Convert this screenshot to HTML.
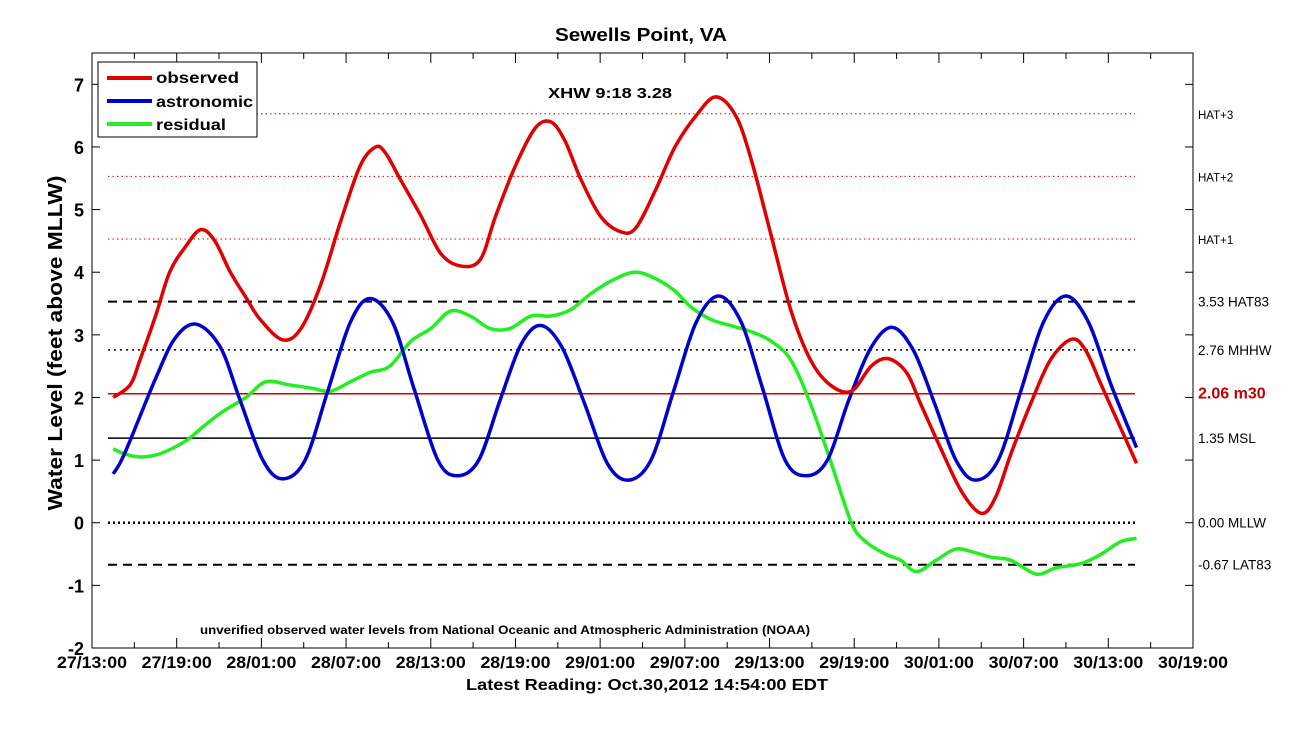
<!DOCTYPE html>
<html><head><meta charset="utf-8"><style>
body{margin:0;background:#fff;}
svg text{font-family:"Liberation Sans",Arial,sans-serif;}
</style></head><body>
<svg id="chart" width="1305" height="728" xmlns="http://www.w3.org/2000/svg">
<text x="555" y="41" font-size="18" font-weight="bold" textLength="172" lengthAdjust="spacingAndGlyphs">Sewells Point, VA</text>
<text transform="translate(62,343) rotate(-90)" text-anchor="middle" font-size="20" font-weight="bold" textLength="335" lengthAdjust="spacingAndGlyphs">Water Level (feet above MLLW)</text>
<text x="466" y="690" font-size="16" font-weight="bold" textLength="362" lengthAdjust="spacingAndGlyphs">Latest Reading: Oct.30,2012 14:54:00 EDT</text>
<text x="200" y="634" font-size="12" font-weight="bold" textLength="610" lengthAdjust="spacingAndGlyphs">unverified observed water levels from National Oceanic and Atmospheric Administration (NOAA)</text>
<text x="548" y="98" font-size="15" font-weight="bold" textLength="124" lengthAdjust="spacingAndGlyphs">XHW 9:18 3.28</text>
<g id="grid"></g>
<g id="axes"></g>
<g id="series"></g>
<g>
<rect x="98" y="62" width="159" height="75" fill="#fff" stroke="#000" stroke-width="1"/>
<line x1="107" y1="78" x2="152" y2="78" stroke="#e00000" stroke-width="4"/>
<text x="156" y="83" font-size="16" font-weight="bold" textLength="83" lengthAdjust="spacingAndGlyphs">observed</text>
<line x1="107" y1="101" x2="152" y2="101" stroke="#0000cc" stroke-width="4"/>
<text x="156" y="107" font-size="16" font-weight="bold" textLength="97" lengthAdjust="spacingAndGlyphs">astronomic</text>
<line x1="107" y1="124" x2="152" y2="124" stroke="#22ee22" stroke-width="4"/>
<text x="156" y="130" font-size="16" font-weight="bold" textLength="70" lengthAdjust="spacingAndGlyphs">residual</text>
</g>
</svg>
<script>
const xTickLabels=["27/13:00","27/19:00","28/01:00","28/07:00","28/13:00","28/19:00","29/01:00","29/07:00","29/13:00","29/19:00","30/01:00","30/07:00","30/13:00","30/19:00"];
const yTicks=[-2,-1,0,1,2,3,4,5,6,7];
const obsT=[1.5,2.7,3.4,4.5,5.5,6.6,7.7,8.7,9.8,10.9,11.9,13.5,14.8,16.2,17.6,19.0,20.1,20.8,21.8,23.3,24.7,26.1,27.5,28.6,30.0,31.4,32.5,33.5,34.6,36.0,37.4,38.5,39.9,41.3,42.8,44.2,45.6,46.7,48.1,49.5,50.9,52.3,53.8,55.2,56.4,57.7,58.7,60.1,61.6,63.0,64.0,65.1,66.5,67.9,69.4,70.4,71.5,72.9,74.0];
const obsV=[2.0,2.2,2.6,3.3,4.0,4.4,4.68,4.5,4.0,3.6,3.25,2.92,3.1,3.8,4.8,5.7,6.0,5.9,5.5,4.9,4.3,4.1,4.2,4.9,5.7,6.3,6.4,6.1,5.5,4.9,4.65,4.7,5.3,6.0,6.5,6.8,6.5,5.8,4.6,3.4,2.6,2.2,2.1,2.5,2.62,2.4,1.9,1.2,0.5,0.15,0.4,1.1,1.9,2.6,2.93,2.75,2.2,1.5,0.95];
const astT=[1.5,2.3,4.5,5.9,7.4,9.1,10.5,12.1,13.5,15.1,16.7,18.3,19.7,21.3,22.8,24.5,25.9,27.4,28.9,30.4,31.8,33.3,34.9,36.5,38.0,39.6,41.2,42.8,44.4,46.0,47.5,49.1,50.6,52.1,53.6,55.2,56.7,58.2,59.7,61.2,62.6,64.2,65.8,67.4,69.0,70.6,72.2,74.0];
const astV=[0.78,1.1,2.3,2.95,3.17,2.8,1.95,1.0,0.7,1.0,2.1,3.2,3.58,3.2,2.15,1.0,0.75,1.0,1.95,2.85,3.15,2.8,1.9,0.95,0.68,1.0,2.1,3.2,3.62,3.2,2.15,1.0,0.75,1.0,1.95,2.8,3.12,2.75,1.9,1.0,0.68,1.0,2.1,3.2,3.62,3.2,2.2,1.2];
const resT=[1.5,2.3,3.4,4.8,6.6,7.7,9.1,10.9,12.3,14.0,15.5,16.9,18.3,19.7,21.1,22.6,24.0,25.4,26.8,28.2,29.6,31.1,32.5,33.9,35.3,36.7,38.4,39.9,41.3,42.4,43.8,45.2,46.7,48.1,49.5,50.9,52.3,53.8,54.8,56.2,57.3,58.4,59.8,61.2,62.6,63.7,65.1,66.9,68.3,70.1,71.5,72.9,74.0];
const resV=[1.18,1.1,1.05,1.1,1.3,1.5,1.75,2.0,2.25,2.2,2.15,2.1,2.25,2.4,2.5,2.9,3.1,3.38,3.3,3.1,3.1,3.3,3.3,3.4,3.65,3.85,4.0,3.9,3.7,3.45,3.25,3.15,3.05,2.9,2.6,1.9,1.0,0.0,-0.3,-0.5,-0.6,-0.78,-0.6,-0.42,-0.48,-0.55,-0.6,-0.82,-0.72,-0.65,-0.5,-0.3,-0.25];
const refVals=[6.53,5.53,4.53,3.53,2.76,2.06,1.35,0.00,-0.67];
const refLabels=["HAT+3","HAT+2","HAT+1","3.53 HAT83","2.76 MHHW","2.06 m30","1.35 MSL","0.00 MLLW","-0.67 LAT83"];

const L=92,R=1193,T=53,B=648,H0=0,H1=78,Y0=-2,Y1=7.5;
const sx=h=>L+(h-H0)/(H1-H0)*(R-L);
const sy=v=>B-(v-Y0)/(Y1-Y0)*(B-T);
const NS="http://www.w3.org/2000/svg";
function mk(tag,attrs,parent){const e=document.createElementNS(NS,tag);for(const k in attrs)e.setAttribute(k,attrs[k]);parent.appendChild(e);return e;}
const grid=document.getElementById('grid'),axes=document.getElementById('axes'),ser=document.getElementById('series');

const refStyles=[
 {c:"#e00000",w:1,d:"1.5 3"},{c:"#e00000",w:1,d:"1.5 3"},{c:"#e00000",w:1,d:"1.5 3"},
 {c:"#000",w:2,d:"9 6"},{c:"#000",w:1.5,d:"2 4"},{c:"#d00000",w:1.5,d:""},{c:"#000",w:1.5,d:""},{c:"#000",w:2.5,d:"2 3"},{c:"#000",w:2,d:"9 6"}];
refVals.forEach((v,i)=>{
 const s=refStyles[i];
 const ln=mk('line',{x1:108,x2:1135,y1:sy(v),y2:sy(v),stroke:s.c,'stroke-width':s.w,'stroke-dasharray':s.d},grid);
 
 
 const small=i<3, red=i==5;
 const t=mk('text',{x:1198,y:sy(v)+5,'font-size':red?16:(small?11.5:13.5),'font-weight':red?'bold':'normal',fill:red?'#c00000':'#000'},grid);
 t.textContent=refLabels[i];
 
 
});

const frame=mk('rect',{x:L,y:T,width:R-L,height:B-T,fill:'none',stroke:'#000','stroke-width':1},axes);


yTicks.forEach(v=>{
 mk('line',{x1:L,x2:L+8,y1:sy(v),y2:sy(v),stroke:'#000'},axes);
 mk('line',{x1:R-8,x2:R,y1:sy(v),y2:sy(v),stroke:'#000'},axes);
 const t=mk('text',{x:L-8,y:sy(v)+7,'text-anchor':'end','font-size':18,'font-weight':'bold'},axes);
 t.textContent=v;
 
 
});
for(let h=0;h<=78;h+=3){
 const len=(h%6==0)?10:6;
 mk('line',{x1:sx(h),x2:sx(h),y1:B,y2:B-len,stroke:'#000'},axes);
 mk('line',{x1:sx(h),x2:sx(h),y1:T,y2:T+len,stroke:'#000'},axes);
}
xTickLabels.forEach((lab,i)=>{
 const t=mk('text',{x:sx(i*6)-35,y:668,'font-size':17,'font-weight':'bold',textLength:70,lengthAdjust:'spacingAndGlyphs'},axes);
 t.textContent=lab;
 
 
});

function path(ts,vs){
 const p=ts.map((t,i)=>[sx(t),sy(vs[i])]);
 let d='M'+p[0][0]+','+p[0][1];
 for(let i=0;i<p.length-1;i++){
  const p0=p[i-1]||p[i],p1=p[i],p2=p[i+1],p3=p[i+2]||p2;
  const c1=[p1[0]+(p2[0]-p0[0])/6,p1[1]+(p2[1]-p0[1])/6];
  const c2=[p2[0]-(p3[0]-p1[0])/6,p2[1]-(p3[1]-p1[1])/6];
  d+=' C'+c1+' '+c2+' '+p2;
 }
 return d;
}
const s1=mk('path',{d:path(resT,resV),fill:'none',stroke:'#22ee22','stroke-width':3.5,'stroke-linejoin':'round'},ser);


const s2=mk('path',{d:path(astT,astV),fill:'none',stroke:'#0000cc','stroke-width':3.5},ser);


const s3=mk('path',{d:path(obsT,obsV),fill:'none',stroke:'#e00000','stroke-width':3.5},ser);


</script>
</body></html>
